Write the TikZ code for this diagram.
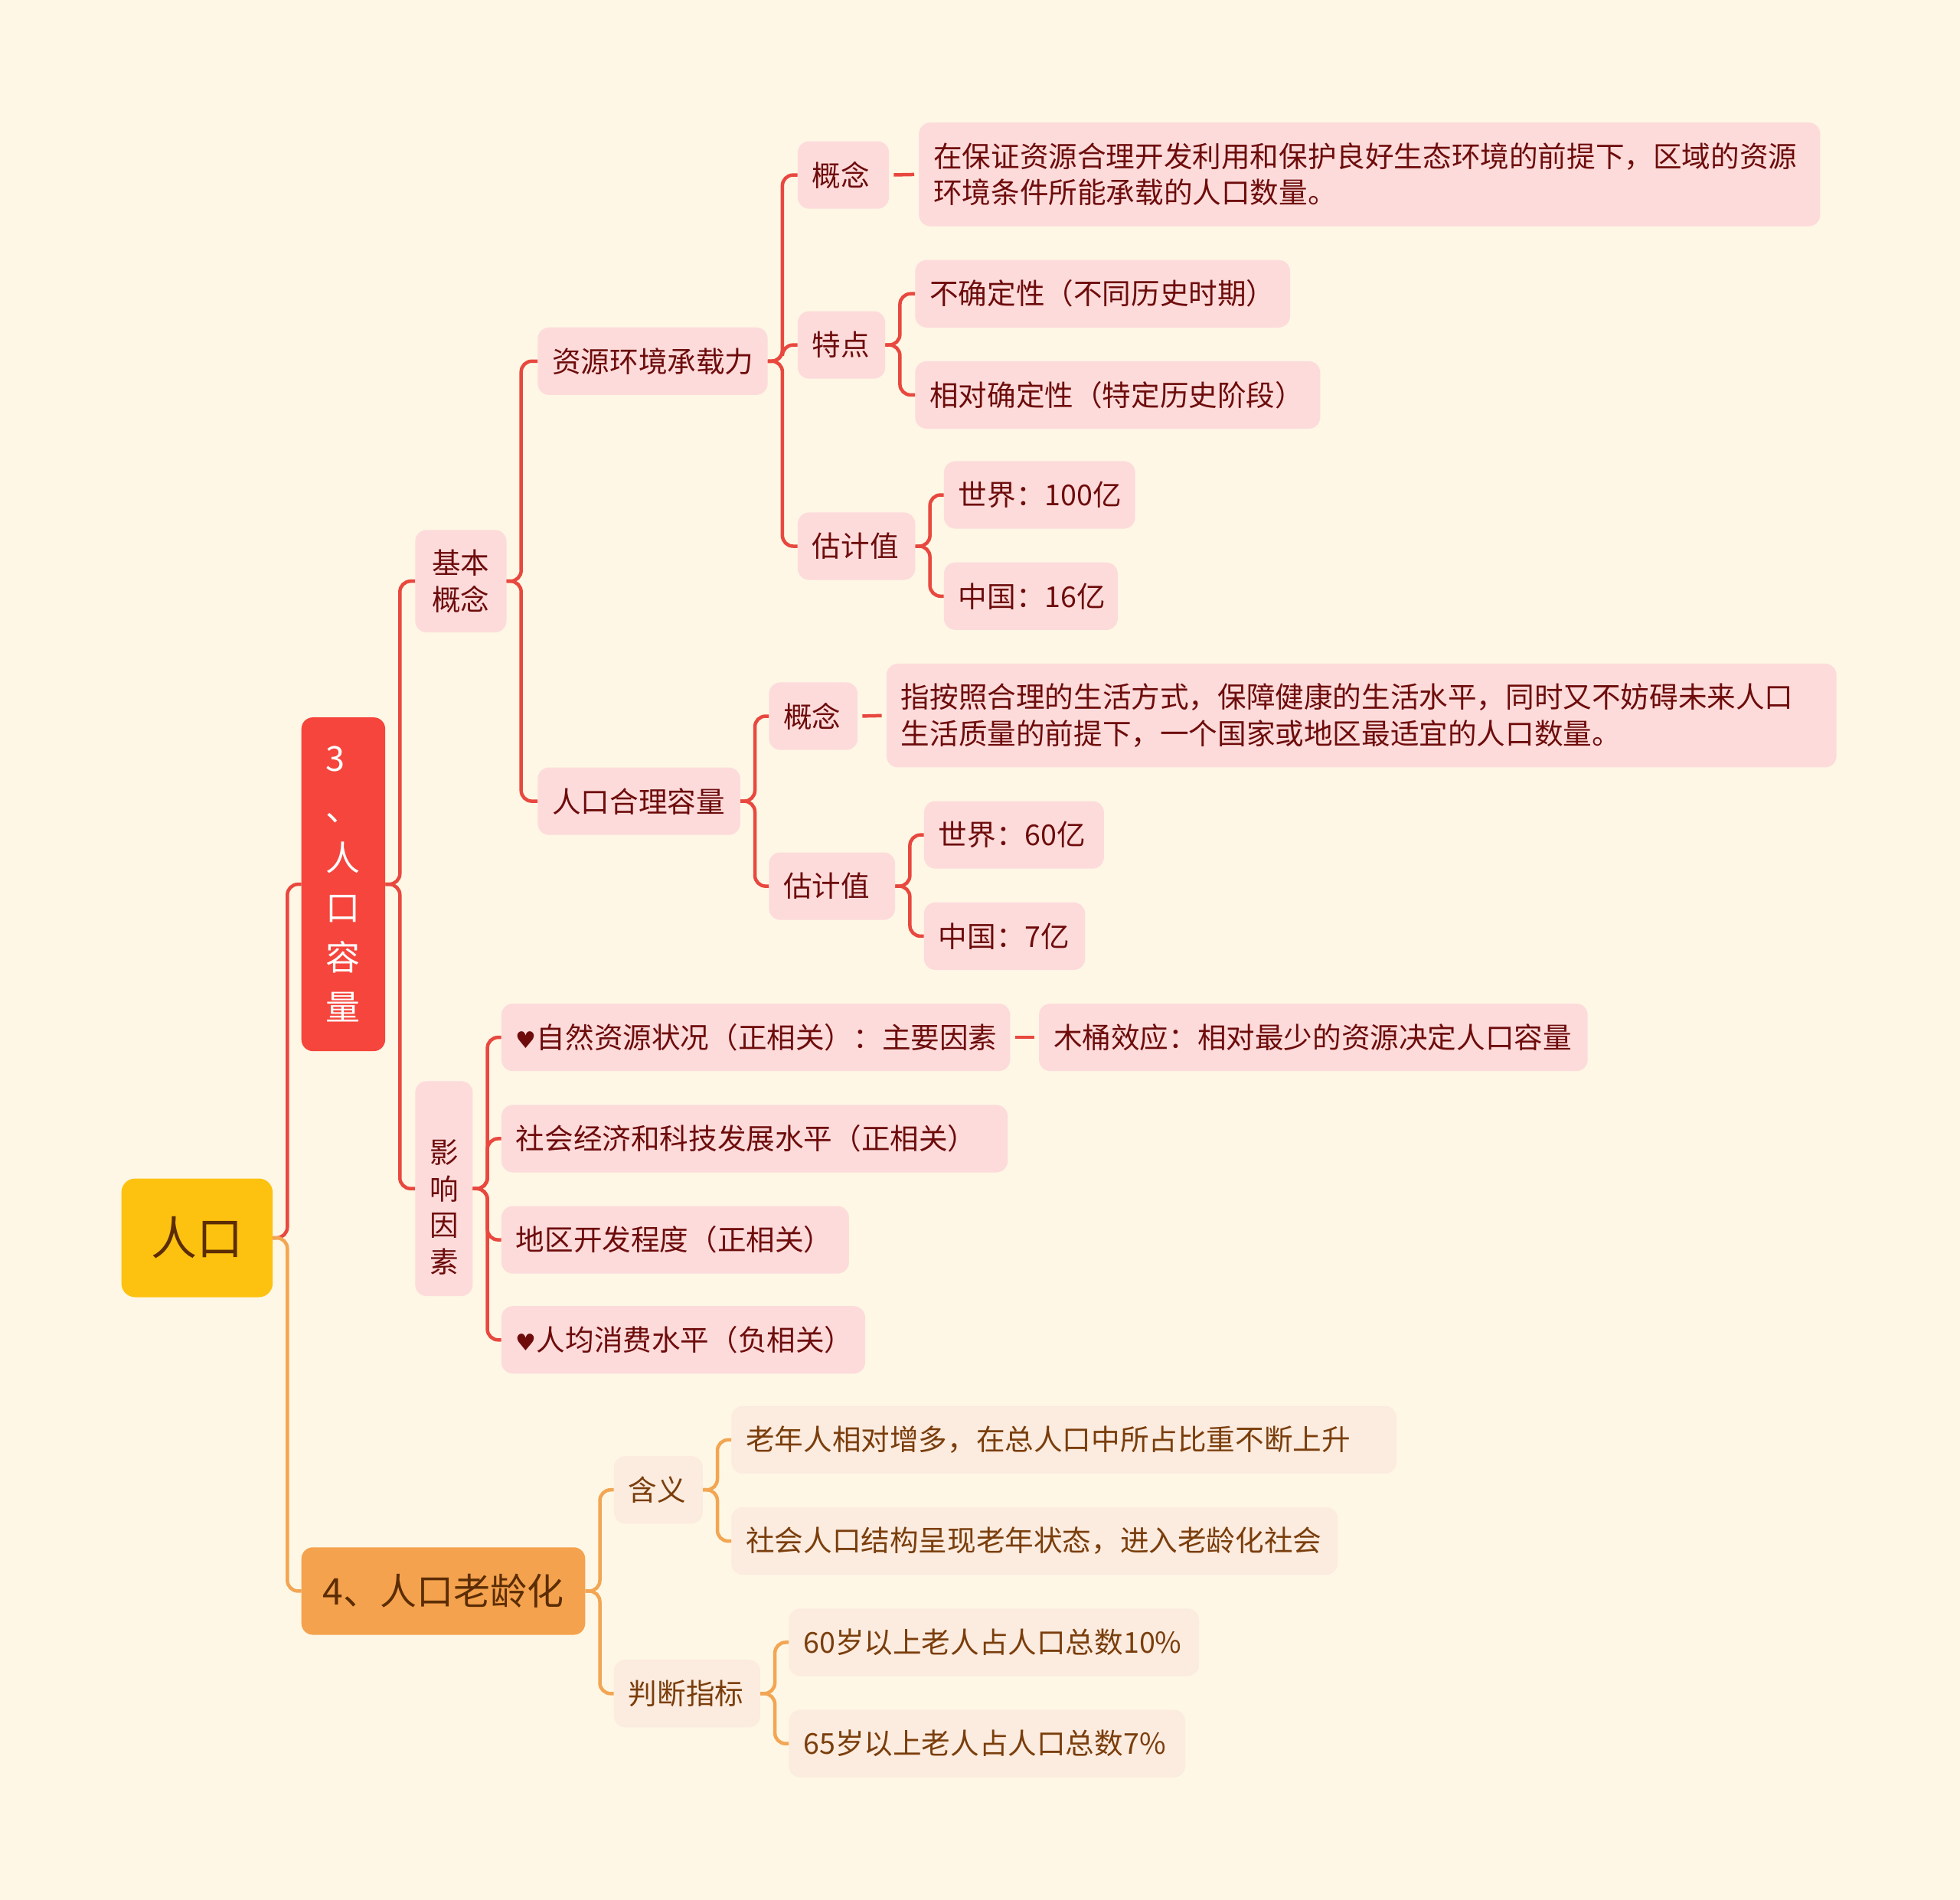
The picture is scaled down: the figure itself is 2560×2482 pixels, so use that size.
\documentclass[tikz,border=0pt]{standalone}
\usepackage{fontspec}
\setmainfont{Noto Sans CJK SC}
\newfontfamily\symfont{DejaVu Sans}
\usetikzlibrary{calc}
\definecolor{bgc}{HTML}{FEF7E5}
\definecolor{redln}{HTML}{E8483F}
\definecolor{redbox}{HTML}{F5453C}
\definecolor{pinkbox}{HTML}{FDDBDB}
\definecolor{darkred}{HTML}{6E0C0C}
\definecolor{orangebox}{HTML}{F4A24E}
\definecolor{orangeln}{HTML}{F2A653}
\definecolor{peachbox}{HTML}{FCEBDF}
\definecolor{browntxt}{HTML}{7A3E0C}
\definecolor{yellowbox}{HTML}{FDC20F}
\definecolor{roottxt}{HTML}{5C2D04}
\newcommand\mmlink[3]{\draw[#1] (#2.east) -- ++(19,0) |- (#3.west);}
\newcommand\hrt{{\symfont\fontsize{30}{30}\selectfont ♥}}
\begin{document}
\begin{tikzpicture}[x=1pt,y=-1pt,
  every node/.style={font=\fontsize{37.6}{47.5}\selectfont},
  base/.style={anchor=west, rounded corners=15pt, minimum height=88.2pt, inner xsep=19pt, inner ysep=6pt, align=left},
  pinkn/.style={base, fill=pinkbox, text=darkred},
  peachn/.style={base, fill=peachbox, text=browntxt},
  rline/.style={draw=redln, line width=4.5pt, rounded corners=14pt},
  oline/.style={draw=orangeln, line width=4.5pt, rounded corners=14pt},
  rdash/.style={draw=redln, line width=4.5pt, shorten <=6pt, shorten >=6pt},
]
\useasboundingbox[fill=bgc] (0,0) rectangle (2560,2482);

% root and main branches
\node[base, fill=yellowbox, text=roottxt, minimum width=197.5pt, minimum height=155pt, align=center, rounded corners=18pt, font=\fontsize{60}{60}\selectfont] (root) at (158.4,1617) {人口};
\node[base, fill=redbox, text=white, minimum width=109.4pt, minimum height=436pt, font=\fontsize{45}{65}\selectfont] (cap) at (393.5,1155.1) {3\\、\\人\\口\\容\\量};
\node[base, fill=orangebox, text=roottxt, minimum width=370.6pt, minimum height=114.3pt, font=\fontsize{48}{48}\selectfont] (age) at (393.5,2078.4) {4、人口老龄化};

% level 2 (capacity)
\node[pinkn, minimum width=119.2pt, minimum height=133.9pt, align=center] (jb) at (542.1,759.2) {基本\\概念};
\node[pinkn, minimum width=75.1pt, minimum height=280.8pt, inner xsep=4pt, label={[text=darkred, align=center, yshift=-24.5pt]center:影\\响\\因\\素}] (yx) at (542.1,1552.7) {};

% level 3
\node[pinkn, text width=262.4pt] (zy) at (702.1,471.8) {资源环境承载力};
\node[pinkn, text width=226.5pt] (rk) at (702.1,1046.6) {人口合理容量};

% under 资源环境承载力
\node[pinkn, text width=81.2pt] (gn1) at (1041.7,228.6) {概念};
\node[pinkn, text width=76.3pt] (td) at (1041.7,450.6) {特点};
\node[pinkn, text width=115.5pt] (gj1) at (1041.7,713.5) {估计值};
\node[pinkn, text width=1139.2pt, minimum height=135.5pt] (def1) at (1200,227.8) {在保证资源合理开发利用和保护良好生态环境的前提下，区域的资源\\环境条件所能承载的人口数量。};
\node[pinkn, text width=451.8pt] (bq) at (1195.1,383.7) {不确定性（不同历史时期）};
\node[pinkn, text width=491pt] (xd) at (1195.1,515.9) {相对确定性（特定历史阶段）};
\node[pinkn, text width=211.8pt] (sj1) at (1232.7,646.5) {世界：100亿};
\node[pinkn, text width=189pt] (zg1) at (1232.7,778.8) {中国：16亿};

% under 人口合理容量
\node[pinkn, text width=77.9pt] (gn2) at (1004.1,935.5) {概念};
\node[pinkn, text width=1202.9pt, minimum height=135.5pt] (def2) at (1157.6,934.7) {指按照合理的生活方式，保障健康的生活水平，同时又不妨碍未来人口\\生活质量的前提下，一个国家或地区最适宜的人口数量。};
\node[pinkn, text width=126.9pt] (gj2) at (1004.1,1157.6) {估计值};
\node[pinkn, text width=197.1pt] (sj2) at (1206.6,1090.6) {世界：60亿};
\node[pinkn, text width=172.6pt] (zg2) at (1206.6,1222.9) {中国：7亿};

% factors
\node[pinkn, text width=626.5pt] (f1) at (654.7,1355.1) {\hrt 自然资源状况（正相关）：主要因素};
\node[pinkn, text width=678.7pt] (mt) at (1356.8,1355.1) {木桶效应：相对最少的资源决定人口容量};
\node[pinkn, text width=623.3pt] (f2) at (654.7,1487.4) {社会经济和科技发展水平（正相关）};
\node[pinkn, text width=415.9pt] (f3) at (654.7,1619.6) {地区开发程度（正相关）};
\node[pinkn, text width=437.1pt] (f4) at (654.7,1750.3) {\hrt 人均消费水平（负相关）};

% ageing
\node[peachn, text width=77.9pt] (hy) at (801.7,1946.2) {含义};
\node[peachn, text width=153pt] (pd) at (801.7,2212.3) {判断指标};
\node[peachn, text width=830.6pt] (a1) at (955.1,1880.9) {老年人相对增多，在总人口中所占比重不断上升};
\node[peachn, text width=753.9pt] (a2) at (955.1,2013.1) {社会人口结构呈现老年状态，进入老龄化社会};
\node[peachn, text width=497.6pt] (b1) at (1030.2,2145.4) {60岁以上老人占人口总数10\%};
\node[peachn, text width=479.6pt] (b2) at (1030.2,2277.7) {65岁以上老人占人口总数7\%};

% connectors
\mmlink{rline}{root}{cap}
\mmlink{oline}{root}{age}
\mmlink{rline}{cap}{jb}
\mmlink{rline}{cap}{yx}
\mmlink{rline}{jb}{zy}
\mmlink{rline}{jb}{rk}
\mmlink{rline}{zy}{gn1}
\mmlink{rline}{zy}{td}
\mmlink{rline}{zy}{gj1}
\draw[rdash] (gn1.east) -- (def1.west);
\mmlink{rline}{td}{bq}
\mmlink{rline}{td}{xd}
\mmlink{rline}{gj1}{sj1}
\mmlink{rline}{gj1}{zg1}
\mmlink{rline}{rk}{gn2}
\mmlink{rline}{rk}{gj2}
\draw[rdash] (gn2.east) -- (def2.west);
\mmlink{rline}{gj2}{sj2}
\mmlink{rline}{gj2}{zg2}
\mmlink{rline}{yx}{f1}
\mmlink{rline}{yx}{f2}
\mmlink{rline}{yx}{f3}
\mmlink{rline}{yx}{f4}
\draw[rdash] (f1.east) -- (mt.west);
\mmlink{oline}{age}{hy}
\mmlink{oline}{age}{pd}
\mmlink{oline}{hy}{a1}
\mmlink{oline}{hy}{a2}
\mmlink{oline}{pd}{b1}
\mmlink{oline}{pd}{b2}
\end{tikzpicture}
\end{document}
